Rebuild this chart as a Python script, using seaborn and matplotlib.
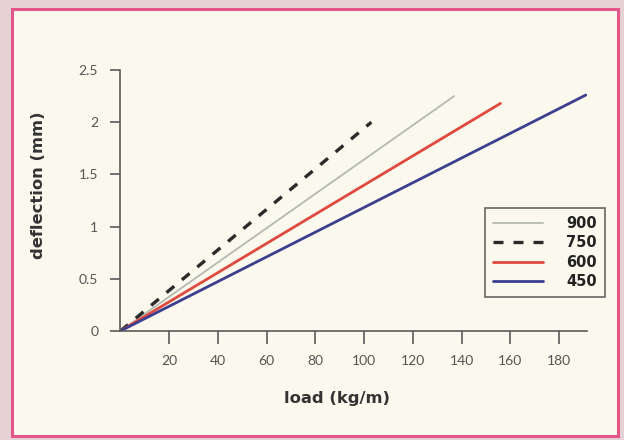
import matplotlib
matplotlib.use("Agg")
import matplotlib.pyplot as plt
import matplotlib.patches as mpatches
import seaborn as sns
import pandas as pd

# Series: each line runs from the origin to its end point
spans      = ["900", "750", "600", "450"]
load_end   = [137, 103, 156, 191]          # kg/m
defl_end   = [2.25, 2.0, 2.18, 2.26]      # mm
colors     = ["#b3bbb0", "#2a2a2a", "#e0493f", "#3b3f8e"]
styles     = ["-", "--", "-", "-"]
widths     = [1.3, 2.4, 2.0, 2.0]

x_ticks = [20, 40, 60, 80, 100, 120, 140, 160, 180]
y_ticks = [0, 0.5, 1, 1.5, 2, 2.5]
y_tick_labels = ["0", "0.5", "1", "1.5", "2", "2.5"]

CREAM = "#fbf8ee"
PINK  = "#e4568a"
AXIS  = "#5a5a5a"
BOLD_FONT = ["DejaVu Sans"]

sns.set_theme(style="white")
plt.rcParams["font.family"] = ["Lato", "DejaVu Sans"]

fig = plt.figure(figsize=(6.24, 4.40), dpi=100, facecolor="#e6d2d4")
W, H = 624, 440

# cream panel with pink frame, on a background axes
bg = fig.add_axes([0, 0, 1, 1], zorder=-1)
bg.set_axis_off()
bg.set_xlim(0, W)
bg.set_ylim(H, 0)
bg.add_patch(mpatches.Rectangle((12, 9), 618 - 12, 436 - 9, facecolor=CREAM,
                                edgecolor=PINK, linewidth=2.2))

ax = fig.add_axes([120.4 / W, 1 - 331 / H, (587 - 120.4) / W, (331 - 70) / H])
ax.set_facecolor("none")

for name, xe, ye, c, ls, lw in zip(spans, load_end, defl_end, colors, styles, widths):
    df = pd.DataFrame({"load": [0, xe], "deflection": [0, ye]})
    sns.lineplot(data=df, x="load", y="deflection", ax=ax, color=c,
                 linestyle=ls, linewidth=lw, label=name)
ax.lines[1].set_dashes([3, 3])

ax.set_xlim(0, 191.5)
ax.set_ylim(0, 2.5)
ax.set_xticks(x_ticks)
ax.set_yticks(y_ticks)
ax.set_yticklabels(y_tick_labels)

for side in ["top", "right"]:
    ax.spines[side].set_visible(False)
for side in ["left", "bottom"]:
    ax.spines[side].set_color(AXIS)
    ax.spines[side].set_linewidth(1.2)

ax.tick_params(axis="x", direction="out", length=9, width=1.2, color=AXIS,
               labelsize=10, labelcolor="#555555", pad=8, bottom=True)
ax.tick_params(axis="y", direction="out", length=7, width=1.2, color=AXIS,
               labelsize=10, labelcolor="#555555", pad=9, left=True)

ax.set_xlabel("load (kg/m)", fontsize=11.8, fontweight="bold", color="#333333",
              family=BOLD_FONT)
ax.set_ylabel("deflection (mm)", fontsize=11.8, fontweight="bold", color="#333333",
              family=BOLD_FONT)
ax.xaxis.set_label_coords((337 - 120.4) / (587 - 120.4), -(391 - 331) / (331 - 70))
ax.yaxis.set_label_coords(-(120.4 - 46) / (587 - 120.4), (331 - 185) / (331 - 70))

leg = ax.legend(loc="upper left", bbox_to_anchor=((485 - 120.4) / (587 - 120.4), (331 - 208) / (331 - 70)),
                borderaxespad=0, frameon=True, fancybox=False, edgecolor="#666666",
                facecolor=CREAM, framealpha=1,
                prop={"family": BOLD_FONT, "weight": "bold", "size": 10.5},
                handlelength=3.4, handletextpad=1.6, labelspacing=0.3, borderpad=0.55)
leg.get_frame().set_linewidth(1.2)
for t in leg.get_texts():
    t.set_color("#222222")

fig.savefig("out.png", dpi=100, facecolor=fig.get_facecolor())
